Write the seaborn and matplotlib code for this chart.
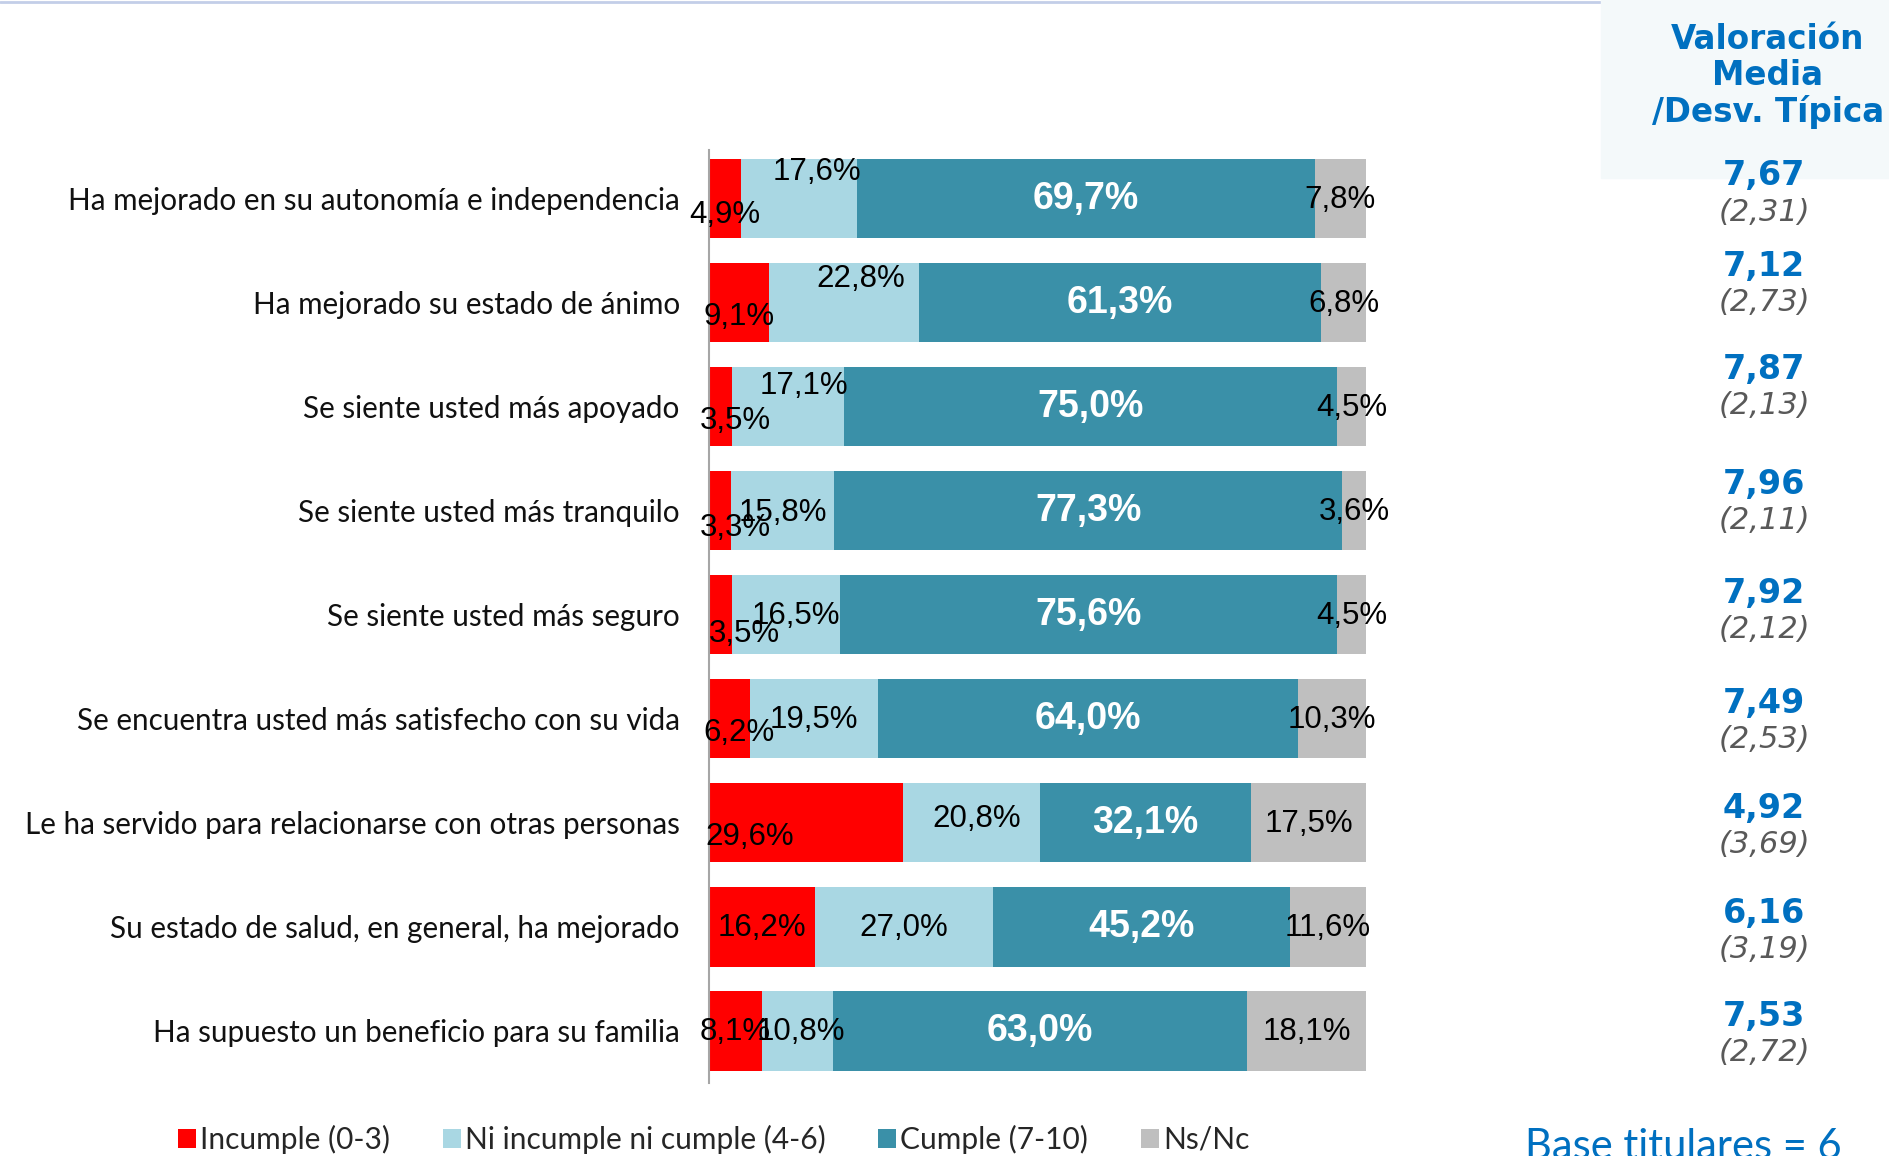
import matplotlib
matplotlib.use('Agg')
import matplotlib.pyplot as plt
from matplotlib.patches import Patch, Rectangle
from matplotlib.lines import Line2D
import seaborn as sns
import pandas as pd

categorias = ['Ha mejorado en su autonomía e independencia',
              'Ha mejorado su estado de ánimo',
              'Se siente usted más apoyado',
              'Se siente usted más tranquilo',
              'Se siente usted más seguro',
              'Se encuentra usted más satisfecho con su vida',
              'Le ha servido para relacionarse con otras personas',
              'Su estado de salud, en general, ha mejorado',
              'Ha supuesto un beneficio para su familia']
incumple = [4.9, 9.1, 3.5, 3.3, 3.5, 6.2, 29.6, 16.2, 8.1]
ni_ni = [17.6, 22.8, 17.1, 15.8, 16.5, 19.5, 20.8, 27.0, 10.8]
cumple = [69.7, 61.3, 75.0, 77.3, 75.6, 64.0, 32.1, 45.2, 63.0]
nsnc = [7.8, 6.8, 4.5, 3.6, 4.5, 10.3, 17.5, 11.6, 18.1]
media = [7.67, 7.12, 7.87, 7.96, 7.92, 7.49, 4.92, 6.16, 7.53]
desv = [2.31, 2.73, 2.13, 2.11, 2.12, 2.53, 3.69, 3.19, 2.72]
series = ['Incumple (0-3)', 'Ni incumple ni cumple (4-6)', 'Cumple (7-10)', 'Ns/Nc']
colores = ['#FF0000', '#A9D7E3', '#3A90A8', '#BFBFBF']

# label nudges (in screen px of the original) to mimic the source placement
red_dx = [0, 0, 12, 13, 20, 8, -47, 0, 0]
red_dy = [13, 12, 12, 14, 16, 12, 12, 1, 1]
ni_dx = [15, 14, 13, 0, 8, 0, 4, 0, 3]
ni_dy = [-22, -20, -17, 2, 1, 1, -3, 1, 1]
val_dy = [-19, -30, -31, -22, -18, -13, -12, -11, -12]

df = pd.DataFrame({'cat': categorias, 'a': incumple, 'b': ni_ni, 'c': cumple, 'd': nsnc})
df['c1'] = df['a']
df['c2'] = df['c1'] + df['b']
df['c3'] = df['c2'] + df['c']
df['c4'] = df['c3'] + df['d']

sns.set_style('white')
plt.rcParams['font.family'] = ['Liberation Sans', 'DejaVu Sans']

W, H = 1890, 1156
fig = plt.figure(figsize=(W / 100, H / 100), dpi=100)

# header box at the right (behind everything)
fig.patches.append(Rectangle((1601 / W, 1 - 178 / H), 1 - 1601 / W, 178 / H,
                             transform=fig.transFigure, color='#F4F9FA', zorder=-5))
fig.lines.append(Line2D([0, 1882 / W], [1 - 1.5 / H, 1 - 1.5 / H], transform=fig.transFigure,
                        color='#C3CEE8', lw=2, zorder=-5))

ax = fig.add_axes([709 / W, 1 - 1083 / H, 657 / W, 933 / H])
ax.patch.set_alpha(0)

# stacked bars: draw cumulative totals from the longest down
for col, c in zip(['c4', 'c3', 'c2', 'c1'], colores[::-1]):
    sns.barplot(data=df, x=col, y='cat', color=c, saturation=1, width=0.76,
                orient='h', ax=ax, linewidth=0)

ax.set_xlim(0, 100)
ax.set_ylim(8.5, -0.47)
ax.set_xlabel('')
ax.set_ylabel('')
ax.set_xticks([])
for s in ['top', 'right', 'bottom']:
    ax.spines[s].set_visible(False)
ax.spines['left'].set_color('#A6A6A6')
ax.spines['left'].set_linewidth(1.5)
ax.tick_params(axis='y', length=0, pad=21)
for t in ax.get_yticklabels():
    t.set_fontfamily('Lato')
    t.set_fontsize(21.3)
    t.set_color('#111111')

k = 0.868
fmt = lambda v: f'{v:.1f}%'.replace('.', ',')
for i in range(len(categorias)):
    r = df.iloc[i]
    ax.annotate(fmt(r['a']), (r['c1'] / 2, i), xytext=(red_dx[i] * k, -red_dy[i] * k),
                textcoords='offset points', ha='center', va='center', fontsize=22.5,
                color='black', annotation_clip=False)
    ax.annotate(fmt(r['b']), ((r['c1'] + r['c2']) / 2, i), xytext=(ni_dx[i] * k, -ni_dy[i] * k),
                textcoords='offset points', ha='center', va='center', fontsize=22.5,
                color='black', annotation_clip=False)
    ax.annotate(fmt(r['c']), ((r['c2'] + r['c3']) / 2, i), xytext=(0, 0),
                textcoords='offset points', ha='center', va='center', fontsize=27,
                color='white', weight='bold', annotation_clip=False)
    ax.annotate(fmt(r['d']), ((r['c3'] + r['c4']) / 2, i), xytext=(0, -1),
                textcoords='offset points', ha='center', va='center', fontsize=22.5,
                color='black', annotation_clip=False)
    # mean / std column
    ax.annotate(f'{media[i]:.2f}'.replace('.', ','), (1764 / W, i),
                xycoords=('figure fraction', 'data'), xytext=(0, -val_dy[i] * k),
                textcoords='offset points', ha='center', va='center', fontsize=24,
                weight='bold', color='#0070C0', family='DejaVu Sans', annotation_clip=False)
    ax.annotate(f'({desv[i]:.2f})'.replace('.', ','), (1764 / W, i),
                xycoords=('figure fraction', 'data'), xytext=(0, -(val_dy[i] + 30) * k),
                textcoords='offset points', ha='center', va='center', fontsize=22,
                style='italic', color='#595959', family='DejaVu Sans', annotation_clip=False)

fig.text(1768 / W, 1 - 76 / H, 'Valoración\nMedia\n/Desv. Típica', ha='center', va='center',
         fontsize=23.5, weight='bold', color='#0070C0', family='DejaVu Sans', linespacing=1.12)

# legend
handles = [Patch(facecolor=c, edgecolor='none') for c in colores]
fig.legend(handles, series, loc='center left', bbox_to_anchor=(178 / W, 1 - 1139 / H),
           ncol=4, frameon=False, prop={'family': 'Lato', 'size': 21.5},
           handlelength=0.6, handleheight=0.6, handletextpad=0.15, columnspacing=1.75,
           borderaxespad=0, borderpad=0)

fig.text(1525 / W, 1 - 1128 / H, 'Base titulares = 6', ha='left', va='top',
         fontsize=30, color='#0070C0', family='Lato')

fig.savefig('out.png', dpi=100)
